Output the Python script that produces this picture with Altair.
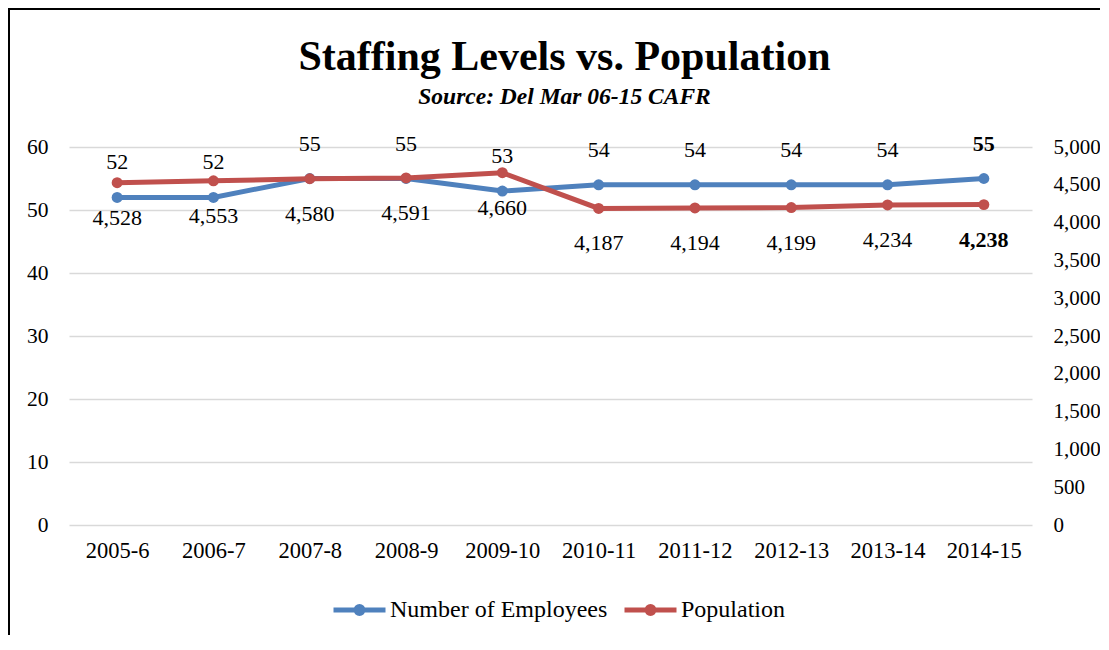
import altair as alt
import pandas as pd

years = ["2005-6", "2006-7", "2007-8", "2008-9", "2009-10",
         "2010-11", "2011-12", "2012-13", "2013-14", "2014-15"]
employees = [52, 52, 55, 55, 53, 54, 54, 54, 54, 55]
population = [4528, 4553, 4580, 4591, 4660, 4187, 4194, 4199, 4234, 4238]
series_names = ["Number of Employees", "Population"]
series_colors = ["#4F81BD", "#C0504D"]

FONT = "Liberation Serif"
LBL = 22

df_emp = pd.DataFrame({"year": years, "value": employees,
                       "series": series_names[0], "idx": range(len(years))})
df_pop = pd.DataFrame({"year": years, "value": population,
                       "series": series_names[1], "idx": range(len(years))})

x_enc = alt.X("year:N", sort=years,
              scale=alt.Scale(type="point", padding=0.5),
              axis=alt.Axis(title=None, labelAngle=0, ticks=False, domain=False,
                            grid=False, labelFontSize=22.5, labelFont=FONT,
                            labelColor="black", labelPadding=14))

# line with a dot in the middle (dot made of two stroked rings)
legend_path = ("M-1,0L1,0"
               "M0.096,0A0.096,0.096,0,1,1,-0.096,0A0.096,0.096,0,1,1,0.096,0Z"
               "M0.135,0A0.135,0.135,0,1,1,-0.135,0A0.135,0.135,0,1,1,0.135,0Z")
legend = alt.Legend(
    title=None, orient="none", direction="horizontal",
    legendX=262, legendY=434,
    symbolType=legend_path, symbolSize=2704, symbolStrokeWidth=5,
    labelFontSize=24, labelFont=FONT, labelColor="black", labelLimit=0,
    labelOffset=2, columnPadding=6,
)
color_enc = alt.Color("series:N",
                      scale=alt.Scale(domain=series_names, range=series_colors),
                      legend=legend)

# Border around the whole chart (decorative frame)
border = alt.Chart(pd.DataFrame({"a": [0]})).mark_rect(
    fill=None, stroke="black", strokeWidth=2
).encode(x=alt.value(-60), x2=alt.value(1100), y=alt.value(-138), y2=alt.value(560))

# Employees (left axis)
y_emp = alt.Y("value:Q",
              scale=alt.Scale(domain=[0, 60], nice=False, zero=True),
              axis=alt.Axis(title=None, orient="left", values=list(range(0, 61, 10)),
                            grid=True, gridColor="#D9D9D9", gridWidth=1.5,
                            domain=False, ticks=False, labelPadding=21,
                            labelFontSize=21.5, labelFont=FONT, labelColor="black"))
emp_base = alt.Chart(df_emp).encode(x=x_enc, y=y_emp)
emp_line = emp_base.mark_line(strokeWidth=5,
                              point=alt.OverlayMarkDef(filled=True, size=120, opacity=1)
                              ).encode(color=color_enc)
emp_text = emp_base.mark_text(dy=-35, fontSize=LBL, font=FONT, color="black").encode(
    text=alt.Text("value:Q")).transform_filter(alt.datum.idx < 9)
emp_text_b = emp_base.mark_text(dy=-35, fontSize=LBL, font=FONT, color="black",
                                fontWeight="bold").encode(
    text=alt.Text("value:Q")).transform_filter(alt.datum.idx == 9)
emp_layer = alt.layer(emp_line, emp_text, emp_text_b)

# Population (right axis)
y_pop = alt.Y("value:Q",
              scale=alt.Scale(domain=[0, 5000], nice=False, zero=True),
              axis=alt.Axis(title=None, orient="right", values=list(range(0, 5001, 500)),
                            format=",.0f", grid=False, domain=False, ticks=False,
                            labelPadding=21, labelFontSize=21, labelFont=FONT,
                            labelColor="black"))
pop_base = alt.Chart(df_pop).encode(x=x_enc, y=y_pop)
pop_line = pop_base.mark_line(strokeWidth=5,
                              point=alt.OverlayMarkDef(filled=True, size=120, opacity=1)
                              ).encode(color=color_enc)
pop_text = pop_base.mark_text(dy=35, fontSize=LBL, font=FONT, color="black").encode(
    text=alt.Text("value:Q", format=",.0f")).transform_filter(alt.datum.idx < 9)
pop_text_b = pop_base.mark_text(dy=35, fontSize=LBL, font=FONT, color="black",
                                fontWeight="bold").encode(
    text=alt.Text("value:Q", format=",.0f")).transform_filter(alt.datum.idx == 9)
pop_layer = alt.layer(pop_line, pop_text, pop_text_b)

chart = alt.layer(border, emp_layer, pop_layer).resolve_scale(
    y="independent"
).properties(
    width=963, height=378,
    autosize=alt.AutoSizeParams(type="none"),
    padding={"left": 61, "top": 139, "right": 68, "bottom": 110},
    title=alt.TitleParams(
        text="Staffing Levels vs. Population",
        subtitle="Source: Del Mar 06-15 CAFR",
        anchor="middle", frame="group", dx=14, offset=-101.5,
        font=FONT, fontSize=42, fontWeight="bold", color="black",
        subtitleFont=FONT, subtitleFontSize=23.5, subtitleFontStyle="italic",
        subtitleFontWeight="bold", subtitleColor="black", subtitlePadding=6,
    ),
).configure(font=FONT).configure_view(stroke=None).configure_legend(
    labelFont=FONT, labelLimit=0
).configure_title(font=FONT, subtitleFont=FONT)

chart.save("out.html", embed_options={"renderer": "svg", "actions": False})
